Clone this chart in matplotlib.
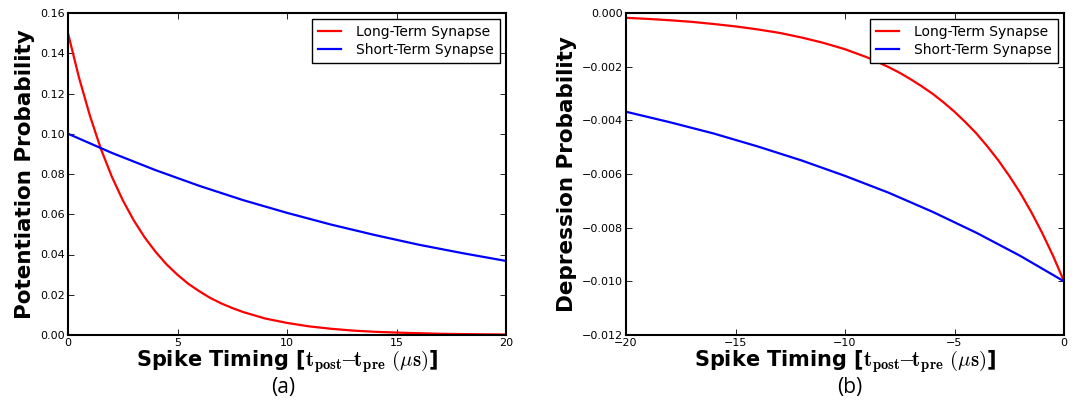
import matplotlib
matplotlib.use("Agg")
import matplotlib.pyplot as plt

# potentiation branch (panel a)
pot_x_long = [0, 0.5, 1, 1.5, 2, 2.5, 3, 3.5, 4, 4.5, 5, 5.5, 6, 6.5, 7, 7.5,
              8, 9, 10, 11, 12, 13, 14, 15, 16, 17, 18, 19, 20]
pot_long = [0.150, 0.128, 0.109, 0.0925, 0.0787, 0.067, 0.057, 0.0485,
            0.0413, 0.0351, 0.0299, 0.0254, 0.0217, 0.0184, 0.0157, 0.0134,
            0.0114, 0.0082, 0.0060, 0.0043, 0.0031, 0.0022, 0.0016, 0.0012,
            0.0009, 0.0006, 0.00045, 0.00033, 0.00024]
pot_x_short = [0, 2, 4, 6, 8, 10, 12, 14, 16, 18, 20]
pot_short = [0.100, 0.0905, 0.0819, 0.0741, 0.0670, 0.0607, 0.0549, 0.0497,
             0.0449, 0.0407, 0.0368]

# depression branch (panel b)
dep_x_long = [-20, -19, -18, -17, -16, -15, -14, -13, -12, -11, -10, -9.5,
              -9, -8.5, -8, -7.5, -7, -6.5, -6, -5.5, -5, -4.5, -4, -3.5, -3,
              -2.5, -2, -1.5, -1, -0.5, 0]
dep_long = [-0.00018, -0.00022, -0.00027, -0.00033, -0.00041, -0.00050,
            -0.00061, -0.00074, -0.00091, -0.00111, -0.00135, -0.00150,
            -0.00165, -0.00183, -0.00202, -0.00223, -0.00247, -0.00273,
            -0.00301, -0.00333, -0.00368, -0.00407, -0.00449, -0.00497,
            -0.00549, -0.00607, -0.00670, -0.00741, -0.00819, -0.00905,
            -0.0100]
dep_x_short = [-20, -18, -16, -14, -12, -10, -8, -6, -4, -2, 0]
dep_short = [-0.00368, -0.00407, -0.00449, -0.00497, -0.00549, -0.00607,
             -0.00670, -0.00741, -0.00819, -0.00905, -0.0100]

labels = ["Long-Term Synapse", "Short-Term Synapse"]
pot_yticks = [0.00, 0.02, 0.04, 0.06, 0.08, 0.10, 0.12, 0.14, 0.16]
dep_yticks = [-0.012, -0.010, -0.008, -0.006, -0.004, -0.002, 0.000]

plt.rcParams["mathtext.fontset"] = "cm"
plt.rcParams["font.family"] = "DejaVu Sans"

W, H = 1078, 412
fig = plt.figure(figsize=(W / 100, H / 100), dpi=100)


def px_axes(x0, x1, y0, y1):
    return fig.add_axes([x0 / W, 1 - y1 / H, (x1 - x0) / W, (y1 - y0) / H])


XLABEL = (r"Spike Timing [$\mathbf{t}_{\mathbf{post}}\!\!-\!\!\mathbf{t}_{\mathbf{pre}}"
          r"\ \mathbf{(}\mu\mathbf{s)}$]")


def style(ax):
    for s in ax.spines.values():
        s.set_linewidth(1.5)
    ax.tick_params(direction="in", top=True, right=True, length=4,
                   width=0.6, labelsize=8, pad=2)
    ax.set_xlabel(XLABEL, fontsize=15, fontweight="bold", labelpad=0)
    ax.legend(loc="upper right", fontsize=10, fancybox=False,
              edgecolor="black", framealpha=1, handlelength=1.7,
              handletextpad=1.1, borderaxespad=0.45, labelspacing=0.3)


ax1 = px_axes(68, 506, 13, 335)
ax1.plot(pot_x_long, pot_long, color="red", lw=1.6, label=labels[0])
ax1.plot(pot_x_short, pot_short, color="blue", lw=1.6, label=labels[1])
ax1.set_xlim(0, 20)
ax1.set_ylim(0, 0.16)
ax1.set_xticks([0, 5, 10, 15, 20])
ax1.set_yticks(pot_yticks)
ax1.set_yticklabels([f"{v:.2f}" for v in pot_yticks])
ax1.set_ylabel("Potentiation Probability", fontsize=15.5, fontweight="bold",
               labelpad=4)
style(ax1)

ax2 = px_axes(626, 1064, 13, 335)
ax2.plot(dep_x_long, dep_long, color="red", lw=1.6, label=labels[0])
ax2.plot(dep_x_short, dep_short, color="blue", lw=1.6, label=labels[1])
ax2.set_xlim(-20, 0)
ax2.set_ylim(-0.012, 0.0)
ax2.set_xticks([-20, -15, -10, -5, 0])
ax2.set_xticklabels(["\u221220", "\u221215", "\u221210", "\u22125", "0"])
ax2.set_yticks(dep_yticks)
ax2.set_yticklabels([f"{v:.3f}".replace("-", "\u2212") for v in dep_yticks])
ax2.set_ylabel("Depression Probability", fontsize=15.5, fontweight="bold",
               labelpad=4)
style(ax2)

fig.text(283 / W, 1 - 388 / H, "(a)", fontsize=15, family="Open Sans",
         ha="center", va="center")
fig.text(850 / W, 1 - 388 / H, "(b)", fontsize=15, family="Open Sans",
         ha="center", va="center")

fig.savefig("out.png", dpi=100)
